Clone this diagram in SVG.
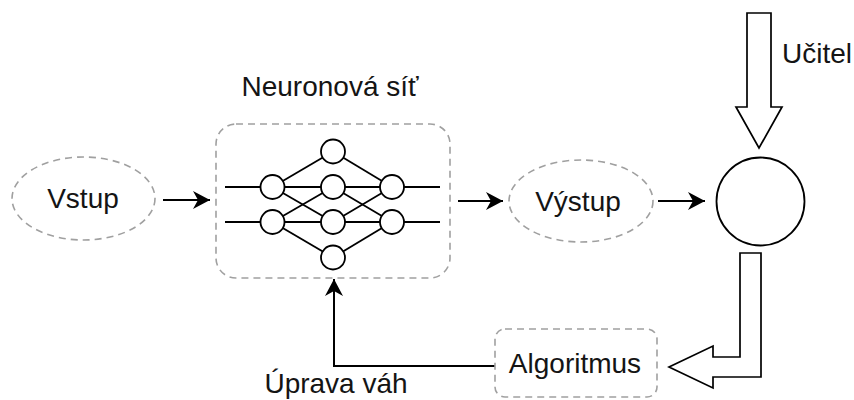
<svg xmlns="http://www.w3.org/2000/svg" width="854" height="400" viewBox="0 0 854 400">
  <style>
    .lbl { font-family: "Liberation Sans", Arial, sans-serif; font-size: 28px; fill: #141414; }
    .mid { text-anchor: middle; }
    .dash { fill: #ffffff; stroke: #a0a0a0; stroke-width: 1.6; stroke-dasharray: 7 5; }
    .edge { fill: none; stroke: #000000; stroke-width: 2; }
    .block { fill: #ffffff; stroke: #000000; stroke-width: 1.7; stroke-linejoin: miter; }
    .nn-line { stroke: #000000; stroke-width: 1.8; fill: none; }
    .nn-node { fill: #ffffff; stroke: #000000; stroke-width: 1.8; }
  </style>
  <defs>
    <marker id="arrow" markerUnits="userSpaceOnUse" markerWidth="20" markerHeight="22" viewBox="-18 -11 19 22" refX="0" refY="0" orient="auto">
      <path d="M0,0 L-17,-9 L-12,0 L-17,9 Z" fill="#000000"/>
    </marker>
  </defs>

  <rect width="854" height="400" fill="#ffffff"/>

  <!-- connectors -->
  <g id="connectors">
    <path class="edge" d="M163,200 L210,200" marker-end="url(#arrow)"/>
    <path class="edge" d="M458,201 L503,201" marker-end="url(#arrow)"/>
    <path class="edge" d="M658,201 L705,201" marker-end="url(#arrow)"/>
    <path class="edge" d="M495,366 L334,366 L334,279" marker-end="url(#arrow)"/>
    <!-- teacher input (block arrow) -->
    <path id="teacher-arrow" class="block" d="M747,13 L771,13 L771,107 L782,107 L759,148 L736,107 L747,107 Z"/>
    <!-- error signal to the algorithm (block arrow) -->
    <path id="error-arrow" class="block" d="M740,253 L761,253 L761,377 L713,377 L713,388 L669,367 L713,346 L713,357 L740,357 Z"/>
  </g>

  <!-- input -->
  <g id="vstup">
    <ellipse class="dash" cx="83.5" cy="198.5" rx="71.5" ry="41.5"/>
    <text class="lbl mid" x="83" y="208">Vstup</text>
  </g>

  <!-- neural network -->
  <g id="neuronova-sit">
    <rect class="dash" x="216" y="124" width="234" height="154" rx="20" ry="20"/>
    <g class="nn-line">
      <line x1="225" y1="187" x2="440" y2="187"/>
      <line x1="225" y1="222" x2="440" y2="222"/>
      <line x1="272.5" y1="187" x2="333" y2="151.5"/>
      <line x1="272.5" y1="187" x2="333" y2="222"/>
      <line x1="272.5" y1="222" x2="333" y2="187"/>
      <line x1="272.5" y1="222" x2="333" y2="257.5"/>
      <line x1="333" y1="151.5" x2="392" y2="187"/>
      <line x1="333" y1="187" x2="392" y2="222"/>
      <line x1="333" y1="222" x2="392" y2="187"/>
      <line x1="333" y1="257.5" x2="392" y2="222"/>
    </g>
    <circle class="nn-node" cx="272.5" cy="187" r="12"/>
    <circle class="nn-node" cx="272.5" cy="222" r="12"/>
    <circle class="nn-node" cx="333" cy="151.5" r="12"/>
    <circle class="nn-node" cx="333" cy="187" r="12"/>
    <circle class="nn-node" cx="333" cy="222" r="12"/>
    <circle class="nn-node" cx="333" cy="257.5" r="12"/>
    <circle class="nn-node" cx="392" cy="187" r="12"/>
    <circle class="nn-node" cx="392" cy="222" r="12"/>
    <text class="lbl mid" x="330" y="96">Neuronová síť</text>
  </g>

  <!-- output -->
  <g id="vystup">
    <ellipse class="dash" cx="581" cy="201" rx="72" ry="41"/>
    <text class="lbl mid" x="578" y="211">Výstup</text>
  </g>

  <!-- comparator -->
  <g id="porovnani">
    <circle cx="760.5" cy="201.5" r="44" fill="#ffffff" stroke="#000000" stroke-width="1.8"/>
  </g>

  <g id="ucitel">
    <text class="lbl" x="782" y="63">Učitel</text>
  </g>

  <!-- learning algorithm -->
  <g id="algoritmus">
    <rect class="dash" x="495" y="329" width="162" height="68" rx="10" ry="10"/>
    <text class="lbl mid" x="575" y="373">Algoritmus</text>
  </g>

  <g id="uprava-vah">
    <text class="lbl mid" x="336" y="393">Úprava váh</text>
  </g>
</svg>
